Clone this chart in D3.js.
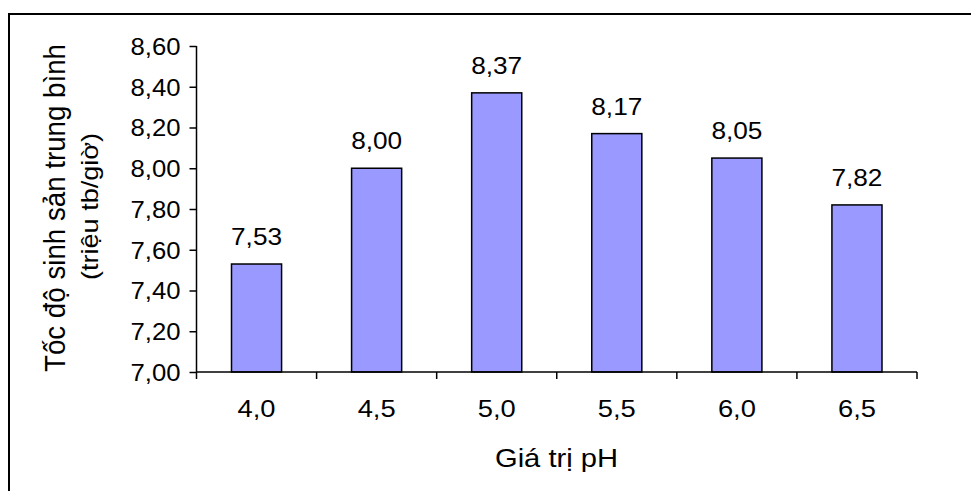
<!DOCTYPE html>
<html>
<head>
<meta charset="utf-8">
<script src="https://cdn.jsdelivr.net/npm/d3@7"></script>
<style>
  html, body { margin: 0; padding: 0; background: #fff; }
  svg { display: block; }
  text { font-family: "Liberation Sans", Arial, sans-serif; fill: #000; }
</style>
</head>
<body>
<svg id="chart" width="971" height="491"></svg>
<script>
// pH levels and mean reproduction rate (million cells per hour)
const categories = ["4,0", "4,5", "5,0", "5,5", "6,0", "6,5"];
const values = [7.53, 8.00, 8.37, 8.17, 8.05, 7.82];
const yTicks = [7.00, 7.20, 7.40, 7.60, 7.80, 8.00, 8.20, 8.40, 8.60];
const yTitle = ["Tốc độ sinh sản trung bình", "(triệu tb/giờ)"];
const xTitle = "Giá trị pH";

const svg = d3.select("#chart");
const fmt = v => v.toFixed(2).replace(".", ",");
const FONT = "'Liberation Sans', Arial, sans-serif";

// outer frame
svg.append("rect")
  .attr("x", 9).attr("y", 14)
  .attr("width", 1000).attr("height", 520)
  .attr("fill", "none").attr("stroke", "#000").attr("stroke-width", 2);

const plot = { left: 196.5, right: 917, top: 46, bottom: 372 };

const x = d3.scaleBand()
  .domain(categories)
  .range([plot.left, plot.right])
  .paddingInner(0.583)
  .paddingOuter(0.2915);

const y = d3.scaleLinear()
  .domain([7.0, 8.6])
  .range([plot.bottom, plot.top]);

// bars
svg.append("g").selectAll("rect")
  .data(values)
  .join("rect")
  .attr("x", (d, i) => x(categories[i]))
  .attr("y", d => y(d))
  .attr("width", x.bandwidth())
  .attr("height", d => y(7.0) - y(d))
  .attr("fill", "#9999FF")
  .attr("stroke", "#000")
  .attr("stroke-width", 1.5);

// value labels
svg.append("g").selectAll("text")
  .data(values)
  .join("text")
  .attr("x", (d, i) => x(categories[i]) + x.bandwidth() / 2)
  .attr("y", d => y(d) - 19)
  .attr("text-anchor", "middle")
  .style("font-size", "24px")
  .attr("textLength", 51)
  .attr("lengthAdjust", "spacingAndGlyphs")
  .text(d => fmt(d));

// y axis
const yAxis = svg.append("g")
  .attr("transform", `translate(${plot.left},0)`)
  .call(d3.axisLeft(y).tickValues(yTicks).tickSize(7).tickPadding(9).tickFormat(fmt));
yAxis.selectAll("path, line").attr("stroke", "#000").attr("stroke-width", 1.5);
yAxis.select(".domain").attr("d", `M-0,${plot.top}V${plot.bottom}`);
yAxis.selectAll("text")
  .style("font-size", "24px")
  .attr("dy", "0.35em")
  .attr("textLength", 50)
  .attr("lengthAdjust", "spacingAndGlyphs")
  .style("font-family", FONT);

// x axis: labels centred on bands, ticks at band boundaries
const xAxis = svg.append("g")
  .attr("transform", `translate(0,${plot.bottom})`)
  .call(d3.axisBottom(x).tickSize(0).tickPadding(28));
xAxis.select(".domain").remove();
xAxis.selectAll("text")
  .style("font-size", "24px")
  .attr("textLength", 38)
  .attr("lengthAdjust", "spacingAndGlyphs")
  .style("font-family", FONT);

const edges = categories.map(c => x(c) + x.bandwidth() / 2 - x.step() / 2);
edges.push(x(categories[categories.length - 1]) + x.bandwidth() / 2 + x.step() / 2);

const xLine = svg.append("g").attr("stroke", "#000").attr("stroke-width", 1.5);
xLine.append("line")
  .attr("x1", plot.left).attr("x2", edges[edges.length - 1])
  .attr("y1", plot.bottom).attr("y2", plot.bottom);
xLine.selectAll("line.tick")
  .data(edges)
  .join("line")
  .attr("class", "tick")
  .attr("x1", d => d).attr("x2", d => d)
  .attr("y1", plot.bottom).attr("y2", plot.bottom + 7);

// axis titles
svg.append("text")
  .attr("x", 556.5).attr("y", 467)
  .attr("text-anchor", "middle")
  .style("font-size", "26px")
  .attr("textLength", 123)
  .attr("lengthAdjust", "spacingAndGlyphs")
  .text(xTitle);

svg.append("text")
  .attr("transform", "translate(65,208) rotate(-90)")
  .attr("text-anchor", "middle")
  .style("font-size", "29px")
  .attr("textLength", 328)
  .attr("lengthAdjust", "spacingAndGlyphs")
  .text(yTitle[0]);

svg.append("text")
  .attr("transform", "translate(98,206.5) rotate(-90)")
  .attr("text-anchor", "middle")
  .style("font-size", "24px")
  .attr("textLength", 147)
  .attr("lengthAdjust", "spacingAndGlyphs")
  .text(yTitle[1]);
</script>
</body>
</html>
